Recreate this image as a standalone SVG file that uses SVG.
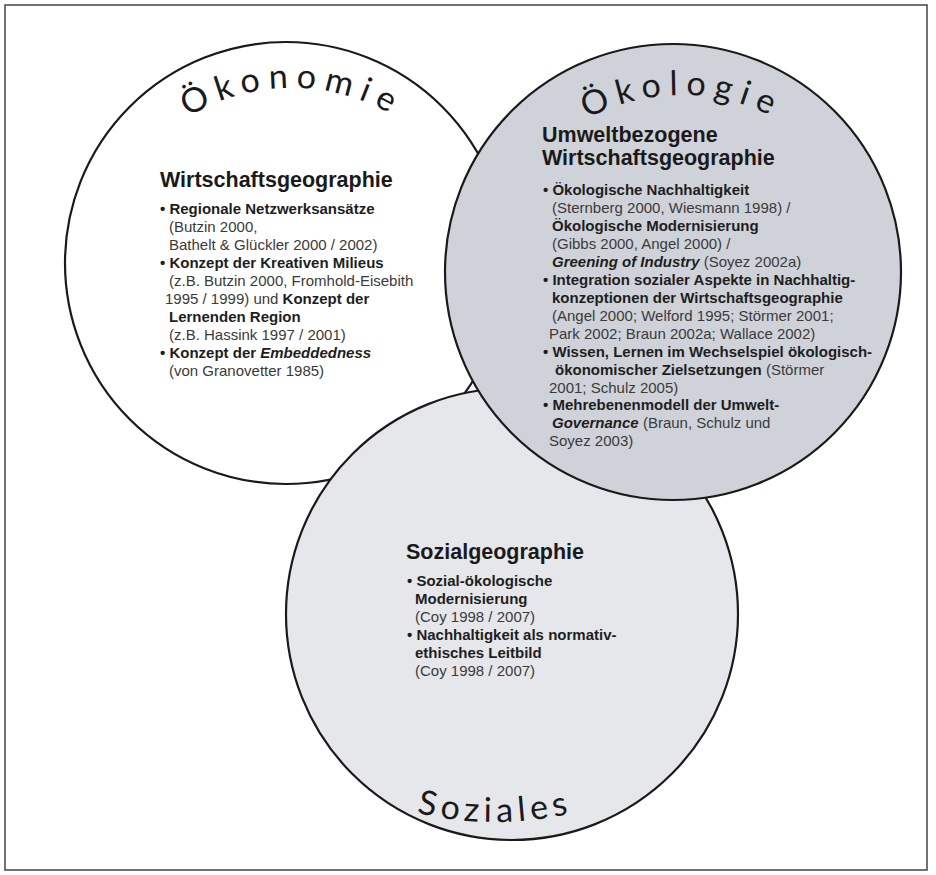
<svg xmlns="http://www.w3.org/2000/svg" width="936" height="875" viewBox="0 0 936 875">
<defs>
<style>
.circ{stroke:#1a1a1a;stroke-width:2.2}
.title{font-family:Lato,"Open Sans",sans-serif;font-size:34px;fill:#1a1a1a;letter-spacing:8px}
.t{font-family:"Liberation Sans",Arial,sans-serif;font-size:15px;fill:#3a3a3a}
.b{font-weight:bold;fill:#1e1e1e}
.bi{font-weight:bold;font-style:italic;fill:#1e1e1e}
.h{font-family:"Liberation Sans",Arial,sans-serif;font-size:21.5px;font-weight:bold;fill:#1a1a1a}
</style>
<path id="arcOek" d="M 92 288 A 200 200 0 0 1 492 288"/>
<path id="arcOeko" d="M 482 295 A 200 200 0 0 1 882 295"/>
<path id="arcSoz" d="M 155 482 A 340 340 0 0 0 835 482"/>
</defs>
<rect x="0" y="0" width="936" height="875" fill="#ffffff"/>
<rect x="5" y="5" width="922" height="865" fill="none" stroke="#444" stroke-width="1.5"/>

<g id="node-oekonomie">
<circle class="circ" cx="286" cy="263" r="221" fill="#ffffff"/>
<text class="title" text-anchor="middle"><textPath href="#arcOek" startOffset="50%">Ökonomie</textPath></text>
<text class="h" x="160" y="187">Wirtschaftsgeographie</text>
<text class="t b" x="160" y="214">• Regionale Netzwerksansätze</text>
<text class="t" x="169" y="232">(Butzin 2000,</text>
<text class="t" x="169" y="250">Bathelt &amp; Glückler 2000 / 2002)</text>
<text class="t b" x="160" y="268">• Konzept der Kreativen Milieus</text>
<text class="t" x="169" y="286">(z.B. Butzin 2000, Fromhold-Eisebith</text>
<text class="t" x="165" y="304">1995 / 1999) und <tspan class="b">Konzept der</tspan></text>
<text class="t b" x="169" y="322">Lernenden Region</text>
<text class="t" x="169" y="340">(z.B. Hassink 1997 / 2001)</text>
<text class="t b" x="160" y="358">• Konzept der <tspan class="bi">Embeddedness</tspan></text>
<text class="t" x="169" y="376">(von Granovetter 1985)</text>
</g>

<g id="node-soziales">
<circle class="circ" cx="512" cy="614" r="226" fill="#e6e7eb"/>
<text class="title" style="letter-spacing:5px" text-anchor="middle"><textPath href="#arcSoz" startOffset="50%">Soziales</textPath></text>
<text class="h" x="406" y="559">Sozialgeographie</text>
<text class="t b" x="407" y="586">• Sozial-ökologische</text>
<text class="t b" x="415" y="604">Modernisierung</text>
<text class="t" x="415" y="622">(Coy 1998 / 2007)</text>
<text class="t b" x="407" y="640">• Nachhaltigkeit als normativ-</text>
<text class="t b" x="415" y="658">ethisches Leitbild</text>
<text class="t" x="415" y="676">(Coy 1998 / 2007)</text>
</g>

<g id="node-oekologie">
<circle class="circ" cx="673" cy="272" r="228" fill="#cfd2d8"/>
<text class="title" text-anchor="middle"><textPath href="#arcOeko" startOffset="50%">Ökologie</textPath></text>
<text class="h" x="542" y="142">Umweltbezogene</text>
<text class="h" x="542" y="165">Wirtschaftsgeographie</text>
<text class="t b" x="543" y="195">• Ökologische Nachhaltigkeit</text>
<text class="t" x="552" y="213">(Sternberg 2000, Wiesmann 1998) /</text>
<text class="t b" x="552" y="231">Ökologische Modernisierung</text>
<text class="t" x="552" y="249">(Gibbs 2000, Angel 2000) /</text>
<text class="t" x="552" y="267"><tspan class="bi">Greening of Industry</tspan> (Soyez 2002a)</text>
<text class="t b" x="543" y="285">• Integration sozialer Aspekte in Nachhaltig-</text>
<text class="t b" x="552" y="303">konzeptionen der Wirtschaftsgeographie</text>
<text class="t" x="552" y="321">(Angel 2000; Welford 1995; Störmer 2001;</text>
<text class="t" x="549" y="339">Park 2002; Braun 2002a; Wallace 2002)</text>
<text class="t b" x="543" y="357">• Wissen, Lernen im Wechselspiel ökologisch-</text>
<text class="t" x="555" y="375"><tspan class="b">ökonomischer Zielsetzungen</tspan> (Störmer</text>
<text class="t" x="549" y="393">2001; Schulz 2005)</text>
<text class="t b" x="543" y="410">• Mehrebenenmodell der Umwelt-</text>
<text class="t" x="552" y="428"><tspan class="bi">Governance</tspan> (Braun, Schulz und</text>
<text class="t" x="549" y="446">Soyez 2003)</text>
</g>
</svg>
